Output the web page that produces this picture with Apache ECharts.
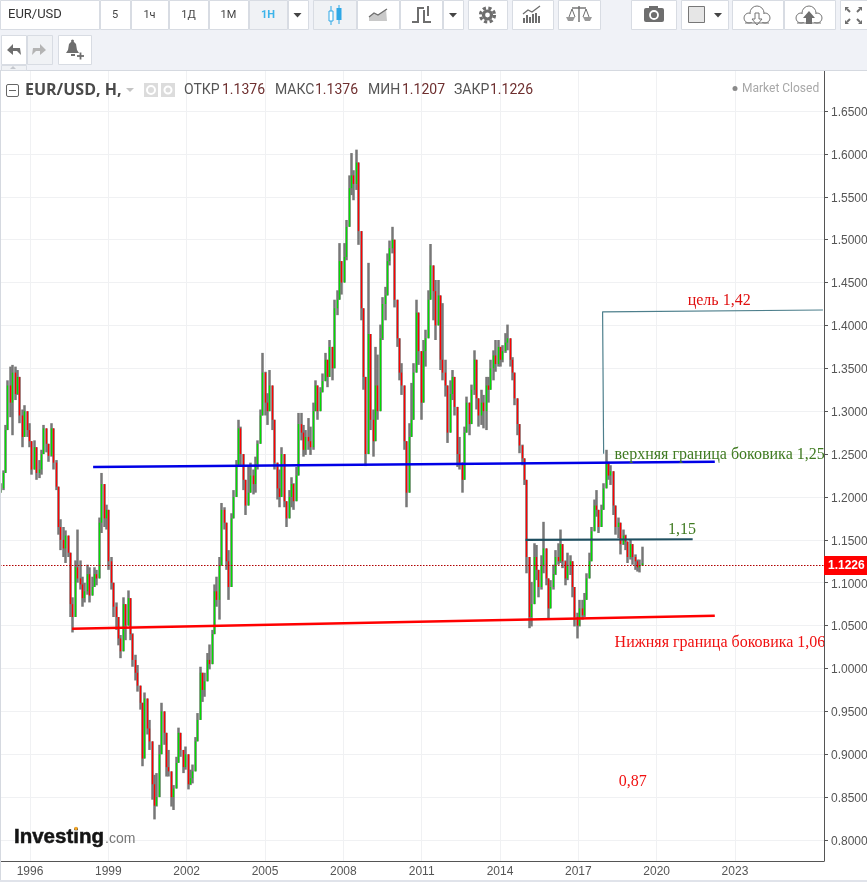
<!DOCTYPE html>
<html><head><meta charset="utf-8">
<style>html,body{margin:0;padding:0;background:#fff}#c{width:867px;height:882px}</style>
<script src="https://cdn.jsdelivr.net/npm/echarts@6/dist/echarts.min.js"></script>
</head><body><div id="c"></div>
<script>
const firstBarYear = 1994.888, barStepYears = 0.09202;
const closes = [1.210,1.228,1.278,1.330,1.310,1.345,1.320,1.340,1.295,1.270,1.300,1.278,
1.265,1.232,1.258,1.228,1.232,1.250,1.280,1.262,1.248,1.280,1.240,1.212,
1.165,1.150,1.140,1.155,1.135,1.075,1.060,1.118,1.105,1.098,1.082,1.090,
1.110,1.085,1.095,1.110,1.105,1.170,1.215,1.175,1.185,1.125,1.100,1.072,
1.060,1.035,1.020,1.075,1.050,1.082,1.040,1.010,0.995,0.980,0.960,0.895,
0.965,0.930,0.915,0.865,0.840,0.850,0.900,0.950,0.925,0.885,0.880,0.850,
0.860,0.890,0.925,0.905,0.885,0.900,0.865,0.872,0.880,0.915,0.940,0.995,
0.975,0.985,1.010,1.005,1.040,1.090,1.080,1.120,1.185,1.170,1.125,1.095,
1.175,1.200,1.235,1.280,1.250,1.220,1.190,1.205,1.225,1.215,1.238,1.262,
1.295,1.345,1.310,1.300,1.330,1.290,1.240,1.210,1.200,1.250,1.195,1.175,
1.200,1.215,1.195,1.225,1.285,1.275,1.255,1.270,1.265,1.258,1.300,1.330,
1.300,1.322,1.335,1.360,1.340,1.375,1.350,1.420,1.430,1.475,1.450,1.480,
1.515,1.560,1.575,1.565,1.590,1.510,1.420,1.340,1.250,1.390,1.290,1.265,
1.330,1.300,1.385,1.425,1.435,1.475,1.490,1.500,1.430,1.385,1.345,1.330,
1.265,1.205,1.270,1.290,1.345,1.415,1.370,1.310,1.370,1.385,1.430,1.470,
1.440,1.400,1.435,1.360,1.345,1.330,1.275,1.320,1.340,1.305,1.250,1.240,
1.220,1.275,1.310,1.285,1.325,1.360,1.315,1.295,1.310,1.300,1.330,1.325,
1.350,1.365,1.355,1.375,1.360,1.370,1.380,1.385,1.360,1.345,1.315,1.285,
1.260,1.245,1.220,1.130,1.060,1.075,1.130,1.115,1.095,1.120,1.140,1.105,
1.070,1.095,1.110,1.130,1.125,1.145,1.125,1.105,1.120,1.125,1.095,1.060,
1.050,1.070,1.062,1.080,1.105,1.125,1.160,1.190,1.185,1.165,1.185,1.210,
1.240,1.225,1.230,1.190,1.165,1.170,1.145,1.155,1.148,1.130,1.145,1.130,
1.125,1.118,1.120,1.1226];
const highs = [1.216,1.231,1.284,1.336,1.352,1.354,1.352,1.348,1.321,1.302,1.307,1.298,
1.286,1.258,1.266,1.249,1.243,1.255,1.284,1.278,1.255,1.286,1.261,1.243,
1.191,1.174,1.165,1.161,1.153,1.109,1.083,1.126,1.162,1.126,1.107,1.100,
1.121,1.118,1.107,1.118,1.115,1.176,1.228,1.197,1.191,1.156,1.130,1.088,
1.077,1.056,1.039,1.083,1.068,1.091,1.065,1.041,1.016,1.004,0.975,0.960,
0.972,0.963,0.940,0.905,0.876,0.878,0.911,0.960,0.940,0.911,0.905,0.870,
0.864,0.897,0.931,0.920,0.905,0.909,0.878,0.882,0.888,0.920,0.948,1.002,
0.992,0.995,1.018,1.028,1.045,1.098,1.107,1.130,1.193,1.188,1.162,1.138,
1.181,1.208,1.243,1.290,1.282,1.240,1.216,1.237,1.240,1.232,1.247,1.266,
1.302,1.368,1.346,1.321,1.348,1.313,1.263,1.223,1.232,1.258,1.220,1.187,
1.208,1.223,1.216,1.235,1.298,1.298,1.284,1.278,1.292,1.282,1.310,1.336,
1.317,1.328,1.344,1.368,1.354,1.383,1.375,1.430,1.441,1.496,1.471,1.496,
1.523,1.575,1.601,1.581,1.605,1.570,1.476,1.383,1.313,1.473,1.340,1.302,
1.375,1.366,1.401,1.433,1.445,1.484,1.499,1.515,1.459,1.403,1.377,1.356,
1.328,1.249,1.286,1.333,1.356,1.430,1.401,1.340,1.383,1.395,1.441,1.495,
1.465,1.453,1.453,1.403,1.426,1.360,1.310,1.336,1.348,1.328,1.286,1.270,
1.240,1.282,1.317,1.310,1.331,1.371,1.331,1.310,1.325,1.319,1.340,1.340,
1.360,1.371,1.383,1.383,1.371,1.377,1.391,1.401,1.371,1.363,1.331,1.295,
1.275,1.261,1.243,1.185,1.109,1.101,1.146,1.144,1.109,1.132,1.171,1.138,
1.100,1.103,1.121,1.138,1.146,1.162,1.144,1.126,1.135,1.132,1.109,1.077,
1.065,1.080,1.080,1.088,1.111,1.135,1.165,1.197,1.208,1.179,1.191,1.216,
1.255,1.241,1.237,1.208,1.185,1.176,1.170,1.162,1.156,1.142,1.150,1.138,
1.133,1.127,1.127,1.142];
const lows = [1.205,1.208,1.232,1.278,1.293,1.272,1.313,1.319,1.286,1.258,1.282,1.270,
1.258,1.226,1.247,1.220,1.222,1.226,1.261,1.252,1.241,1.247,1.232,1.208,
1.156,1.138,1.130,1.123,1.130,1.060,1.042,1.098,1.100,1.092,1.072,1.077,
1.086,1.077,1.088,1.100,1.097,1.123,1.158,1.165,1.162,1.115,1.092,1.060,
1.045,1.027,1.012,1.045,1.033,1.056,1.033,1.002,0.986,0.973,0.952,0.886,
0.932,0.923,0.905,0.847,0.824,0.839,0.882,0.913,0.911,0.874,0.874,0.839,
0.835,0.870,0.897,0.897,0.878,0.882,0.859,0.864,0.866,0.890,0.920,0.972,
0.961,0.967,0.986,0.999,1.034,1.049,1.072,1.057,1.126,1.162,1.115,1.080,
1.138,1.181,1.208,1.243,1.237,1.208,1.179,1.197,1.208,1.203,1.205,1.232,
1.270,1.319,1.295,1.284,1.302,1.278,1.232,1.197,1.188,1.216,1.188,1.165,
1.177,1.188,1.185,1.208,1.237,1.266,1.247,1.249,1.255,1.249,1.255,1.305,
1.290,1.307,1.325,1.342,1.328,1.354,1.336,1.383,1.412,1.457,1.436,1.450,
1.476,1.532,1.552,1.546,1.558,1.494,1.406,1.325,1.236,1.383,1.278,1.247,
1.313,1.290,1.354,1.383,1.406,1.449,1.470,1.484,1.421,1.375,1.336,1.319,
1.255,1.188,1.249,1.275,1.319,1.368,1.354,1.290,1.342,1.352,1.389,1.433,
1.406,1.383,1.406,1.348,1.336,1.317,1.263,1.290,1.313,1.295,1.235,1.232,
1.205,1.247,1.275,1.272,1.290,1.319,1.302,1.282,1.284,1.280,1.278,1.310,
1.325,1.336,1.346,1.352,1.352,1.357,1.368,1.371,1.352,1.336,1.307,1.272,
1.251,1.237,1.214,1.111,1.047,1.049,1.083,1.103,1.083,1.092,1.111,1.097,
1.057,1.072,1.092,1.109,1.121,1.123,1.117,1.097,1.103,1.109,1.083,1.049,
1.035,1.049,1.057,1.060,1.088,1.115,1.135,1.165,1.177,1.158,1.174,1.193,
1.216,1.220,1.214,1.179,1.156,1.152,1.133,1.144,1.138,1.123,1.127,1.121,
1.115,1.113,1.112,1.123];
const lastPrice = 1.1226;
const priceTicks = [0.80,0.85,0.90,0.95,1.00,1.05,1.10,1.15,1.20,1.25,1.30,1.35,1.40,1.45,1.50,1.55,1.60,1.65];
const yearTicks = [1996,1999,2002,2005,2008,2011,2014,2017,2020,2023];
const upperLine = [[1998.416,1.235],[2022.227,1.241]];
const lowerLine = [[1997.61,1.0464],[2022.227,1.0615]];
const midLine = [[2014.98,1.150],[2021.38,1.1507]];
const targetLine = [[2017.97,1.2504],[2017.93,1.4159],[2026.37,1.418]];
const noteTexts = ['цель 1,42','верхняя граница боковика 1,25','1,15','Нижняя граница боковика 1,06','0,87'];
const noteYears = [2021.17,2018.37,2020.42,2018.37,2018.53];
const notePrices = [1.4288,1.2494,1.1615,1.0297,0.8684];
const noteColors = ['#e01010','#3f7a20','#3f7a20','#f01010','#f01010'];
const intervals = ['5','1ч','1Д','1М','1Н'];
const quoteNames = ['ОТКР','МАКС','МИН','ЗАКР'];
const quoteValues = ['1.1376','1.1376','1.1207','1.1226'];

const opens = closes.map((c,i)=> i? closes[i-1] : 1.205);
const years = closes.map((c,i)=> firstBarYear + i*barStepYears);
const wickData = closes.map((c,i)=>[years[i],opens[i],c,Math.min(lows[i],opens[i],c),Math.max(highs[i],opens[i],c)]);
const bodyData = closes.map((c,i)=>[years[i],opens[i],c,Math.min(opens[i],c),Math.max(opens[i],c)]);

const UI='Roboto, "Open Sans", sans-serif', BORDER='#d8dce3', GR='#6e6e6e';
const g=[];
const box=(x,y,w,h,fill='#fff',stroke=BORDER,z=50)=>g.push({type:'rect',z,silent:true,shape:{x:x+.5,y:y+.5,width:w,height:h},style:{fill,stroke,lineWidth:1}});
const fillRect=(x,y,w,h,fill,z=50)=>g.push({type:'rect',z,silent:true,shape:{x,y,width:w,height:h},style:{fill}});
const txt=(x,y,text,font,fill,align='left',z=52)=>g.push({type:'text',z,silent:true,style:{x,y,text,font,fill,textAlign:align,textVerticalAlign:'middle'}});
const poly=(pts,fill,z=52)=>g.push({type:'polygon',z,silent:true,shape:{points:pts},style:{fill}});
const pl=(pts,stroke,w=1.5,z=52)=>g.push({type:'polyline',z,silent:true,shape:{points:pts},style:{stroke,lineWidth:w,fill:null}});
const circ=(cx,cy,r,fill,stroke,w=1,z=52,dash)=>g.push({type:'circle',z,silent:true,shape:{cx,cy,r},style:{fill,stroke,lineWidth:w,lineDash:dash}});
const caret=(cx,cy,col='#444',s=4)=>poly([[cx-s,cy-2],[cx+s,cy-2],[cx,cy+2.5]],col);

fillRect(0,0,867,70,'#f0f2f7',45);
fillRect(0,70,867,1,'#d5d9e0',46);
fillRect(0,71,1,810,'#d5d9e0',46);
fillRect(0,880,867,2,'#e0e3ea',46);
// toolbar row 1
box(0,0,99,29);
txt(8,15,'EUR/USD','13px '+UI,'#333');
const cellX=[[100,30],[131,37],[169,39],[209,39],[249,38]];
intervals.forEach((t,i)=>{const c=cellX[i];box(c[0],0,c[1],29,i==4?'#f0f2f5':'#fff');
 txt(c[0]+c[1]/2,15,t,(i==4?'bold ':'')+'11px '+UI,i==4?'#3db4ea':'#444','center');});
box(288,0,20,29);caret(297.5,15);
box(313,0,43,29,'#f0f2f5');box(357,0,42,29);box(400,0,42,29);box(443,0,20,29);caret(453,15);
pl([[331,6],[331,25]],'#2fa8e6',1);g.push({type:'rect',z:52,silent:true,shape:{x:329,y:11,width:4,height:10},style:{fill:'#fff',stroke:'#2fa8e6',lineWidth:1}});
pl([[339,5],[339,24]],'#2fa8e6',1);fillRect(336.5,8,5,12,'#2fa8e6',52);
poly([[369,21],[369,17],[374,13],[378,15],[386,9],[387,21]],'#c9c9c9');pl([[369,17],[374,13],[378,15],[387,9]],GR,1.3);
pl([[412,22],[418,22],[418,8],[424,8]],GR,2);pl([[424,10],[424,22],[431,22]],GR,2);pl([[428,6],[428,16]],GR,2);
box(468,0,39,29);circ(487.5,15,7,null,GR,3.2,52,[3.2,2.4]);circ(487.5,15,4,null,GR,3.2);
box(512,0,41,29);[[523,18],[526,15],[529,17],[532,14],[535,13],[538,16]].forEach(b=>fillRect(b[0],b[1],2,23-b[1],GR,52));pl([[523,14],[528,10],[532,12],[540,6]],GR,1.3);
box(558,0,42,29);pl([[579,6],[579,22]],GR,1.4);pl([[572,8],[586,8]],GR,1.4);pl([[569,17],[572,9],[575,17]],GR,1);pl([[583,17],[586,9],[589,17]],GR,1);
poly([[566,17],[575,17],[573,21],[568,21]],'#9a9a9a');poly([[583,17],[592,17],[590,21],[585,21]],'#9a9a9a');
box(631,0,45,29);g.push({type:'rect',z:52,silent:true,shape:{x:644,y:8,width:20,height:14,r:2},style:{fill:GR}});fillRect(649,6,9,3,GR,52);circ(654,15,4,GR,'#fff',1.8);
box(681,0,47,29);box(688,6,16,16,'#e6e6e6','#777',52);caret(718,15);
box(732,0,51,29);box(784,0,51,29);
[[757,false],[809,true]].forEach(([cx,up])=>{
 circ(cx-8,18,5,'#fff','#777',1);circ(cx+8,18,5,'#fff','#777',1);circ(cx,13,7,'#fff','#777',1);fillRect(cx-8,14,16,8,'#fff',52);pl([[cx-12,23],[cx+12,23]],'#777',1);
 if(up) poly([[cx,11],[cx+6,18],[cx+3,18],[cx+3,24],[cx-3,24],[cx-3,18],[cx-6,18]],GR,53);
 else pl([[cx-2,13],[cx+2,13],[cx+2,19],[cx+5,19],[cx,25],[cx-5,19],[cx-2,19],[cx-2,13]],'#777',1);});
box(840,0,30,29);
[[846,8,1,1],[861,8,-1,1],[846,23,1,-1],[861,23,-1,-1]].forEach(([x,y,a,b])=>{poly([[x-a,y-b],[x+3*a,y-b],[x-a,y+3*b]],GR);pl([[x+a,y+b],[x+4*a,y+4*b]],GR,2);});
// toolbar row 2
box(1,35,25,29);box(27,35,25,29,'#f0f2f5');box(58,35,33,29);
poly([[7,50],[13,44],[13,48],[20,48],[21,55],[17,51],[13,51],[13,55]],GR);
poly([[46,50],[40,44],[40,48],[33,48],[32,55],[36,51],[40,51],[40,55]],'#b4b4b4');
poly([[69,44],[71,42],[74,42],[76,44],[77,50],[79,53],[66,53],[68,50]],GR);circ(72.5,41,1.5,GR,null);fillRect(71,54,4,2,GR,52);pl([[77,56],[84,56]],GR,1.8);pl([[80.5,52.5],[80.5,59.5]],GR,1.8);
box(1,65,25,5,'#f0f2f5');poly([[10,69],[16,69],[13,66]],'#c5c8ce');
// title row
g.push({type:'rect',z:52,silent:true,shape:{x:6.5,y:84.5,width:12,height:12,r:1.5},style:{fill:'#fff',stroke:'#666',lineWidth:1}});pl([[9,90.5],[16,90.5]],'#666',1);
txt(25,90,'EUR/USD, H,','bold 16px "Open Sans"','#4a4a4a');
poly([[126,88],[134,88],[130,92]],'#c4c4c4');
fillRect(144,83,14,14,'#dcdcdc',52);circ(151,90,4,'#dcdcdc','#fff',2);
fillRect(161,83,14,14,'#dcdcdc',52);circ(168,90,3.5,'#dcdcdc','#fff',2);
const qx=[[184,222],[275,315],[368,402],[454,490]];
quoteNames.forEach((n,i)=>{txt(qx[i][0],90,n,'14px '+UI,'#555');txt(qx[i][1],90,quoteValues[i],'14px '+UI,'#6e2f2f');});
circ(735,88.5,2.5,'#8a8a8a',null);
txt(742,88.5,'Market Closed','12px '+UI,'#a8a8a8');
// logo
g.push({type:'text',z:52,silent:true,style:{x:14,y:837,text:'Investing',font:'bold 20.5px "Liberation Sans"',fill:'#141414',stroke:'#141414',lineWidth:0.5,textAlign:'left',textVerticalAlign:'middle'}});
txt(105,839,'.com','14px "Liberation Sans"','#777');
circ(76,828.5,1.7,'#f5a623',null,1,53);
// mask that cuts annotations at the price scale
fillRect(825,71,42,790,'#fff',10);

const plain=(data,color,w,extra={})=>Object.assign({type:'line',data,showSymbol:false,silent:true,z:6,lineStyle:{color,width:w},animation:false},extra);
const opt={
 animation:false,backgroundColor:'#fff',graphic:{elements:g},
 grid:{left:0,right:43,top:71,bottom:21,containLabel:false,outerBoundsMode:'none'},
 xAxis:{type:'value',min:1994.85,max:2026.41,
  axisLine:{onZero:false,lineStyle:{color:'#555',width:1}},
  axisTick:{show:false,customValues:yearTicks},
  axisLabel:{customValues:yearTicks,formatter:v=>String(v),color:'#555',fontSize:12,fontFamily:'"Liberation Sans"',margin:5},
  splitLine:{show:true,lineStyle:{color:'#f0f1f3',width:1}}},
 yAxis:[{type:'value',position:'right',min:0.7755,max:1.6967,z:0,scale:true,
   axisLine:{show:false},axisLabel:{show:false},
   axisTick:{show:false,customValues:priceTicks},
   splitLine:{show:true,lineStyle:{color:'#f0f1f3',width:1}}},
  {type:'value',position:'right',min:0.7755,max:1.6967,z:30,scale:true,
   axisLine:{show:true,onZero:false,lineStyle:{color:'#555',width:1}},
   axisTick:{show:true,length:4,customValues:priceTicks,lineStyle:{color:'#555'}},
   axisLabel:{customValues:priceTicks,formatter:v=>'{p|'+v.toFixed(4)+'}',margin:7,
    rich:{p:{color:'#555',fontSize:12,fontFamily:'"Liberation Sans"',padding:[3,0,0,0]}}},
   splitLine:{show:false}}],
 series:[
  {type:'candlestick',name:'wicks',data:wickData,encode:{x:0,y:[1,2,3,4]},barWidth:1,z:3,silent:true,clip:true,progressive:0,animation:false,
   itemStyle:{color:'#777',color0:'#777',borderColor:'#777',borderColor0:'#777',borderWidth:2.5}},
  {type:'candlestick',name:'bodies',data:bodyData,encode:{x:0,y:[1,2,3,4]},barWidth:1,z:4,silent:true,clip:true,progressive:0,animation:false,
   itemStyle:{color:'#00dd00',color0:'#ff0000',borderColor:'#00dd00',borderColor0:'#ff0000',borderWidth:1.3}},
  plain(upperLine,'#0000e6',2.4),
  plain(lowerLine,'#ff0000',2.4),
  plain(midLine,'#1f4f60',2.2),
  plain(targetLine,'#4d7f8c',1.2),
  {type:'scatter',data:noteYears.map((y,i)=>({value:[y,notePrices[i]],label:{color:noteColors[i]}})),
   symbol:'circle',symbolSize:1,silent:true,z:7,animation:false,clip:false,
   itemStyle:{color:'transparent'},
   label:{show:true,position:'right',distance:0,opacity:1,fontFamily:'"Liberation Serif"',fontSize:16,
    formatter:p=>noteTexts[p.dataIndex]}},
  {type:'line',data:[],z:40,silent:true,animation:false,
   markLine:{silent:true,symbol:'none',animation:false,z:40,
    lineStyle:{color:'#b00000',type:[1.5,1.5],width:1},
    label:{position:'end',distance:0,formatter:()=>lastPrice.toFixed(4),color:'#fff',fontWeight:'bold',fontSize:12,fontFamily:'"Liberation Sans"',backgroundColor:'#ff0000',padding:[4,3,3,4]},
    data:[{yAxis:lastPrice}]}}
 ]
};
const chart=echarts.init(document.getElementById('c'),null,{renderer:'canvas',width:867,height:882});
chart.setOption(opt);
</script></body></html>
